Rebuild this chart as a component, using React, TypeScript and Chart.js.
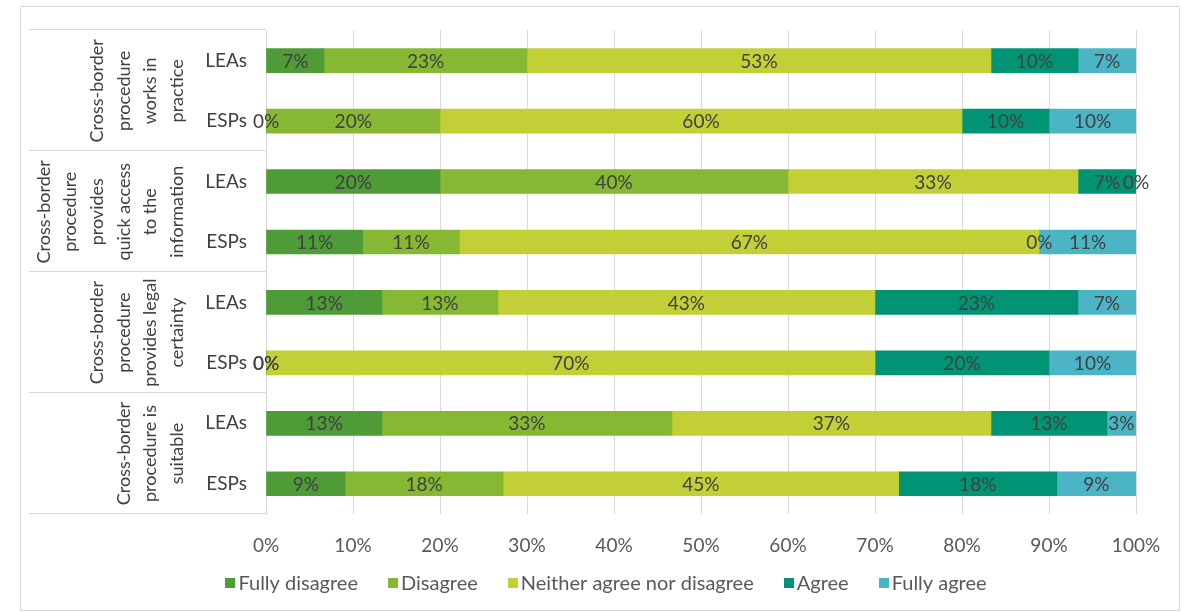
import React, { useEffect, useRef } from 'react';
import { Chart, registerables } from 'chart.js';

Chart.register(...registerables);

// Rows (respondent type) and their survey-statement groups
const rowLabels = ['LEAs', 'ESPs', 'LEAs', 'ESPs', 'LEAs', 'ESPs', 'LEAs', 'ESPs'];
const groupLabels = [
  ['Cross-border', 'procedure', 'works in', 'practice'],
  ['Cross-border', 'procedure', 'provides', 'quick access', 'to the', 'information'],
  ['Cross-border', 'procedure', 'provides legal', 'certainty'],
  ['Cross-border', 'procedure is', 'suitable'],
];

// Answer categories and their colours
const seriesNames = ['Fully disagree', 'Disagree', 'Neither agree nor disagree', 'Agree', 'Fully agree'];
const seriesColors = ['#4E9B38', '#86B833', '#C3CF37', '#009474', '#4BB5C6'];

// Share of answers (%) per row
const fullyDisagree = [6.67, 0, 20, 11.11, 13.33, 0, 13.33, 9.09];
const disagree = [23.33, 20, 40, 11.11, 13.33, 0, 33.33, 18.18];
const neither = [53.33, 60, 33.33, 66.67, 43.33, 70, 36.67, 45.45];
const agree = [10, 10, 6.67, 0, 23.33, 20, 13.33, 18.18];
const fullyAgree = [6.67, 10, 0, 11.11, 6.67, 10, 3.33, 9.09];

const seriesValues = [fullyDisagree, disagree, neither, agree, fullyAgree];

const FONT = 'Lato, "Noto Sans", sans-serif';
const DARK = '#404040';
const GREY = '#595959';
const LINE = '#D9D9D9';

const decorPlugin = {
  id: 'decor',
  beforeDraw(chart: any) {
    const ctx = chart.ctx;
    ctx.save();
    ctx.fillStyle = '#ffffff';
    ctx.fillRect(0, 0, chart.width, chart.height);
    ctx.strokeStyle = LINE;
    ctx.lineWidth = 1;
    ctx.strokeRect(20.5, 6.5, 1159, 604);
    ctx.restore();
  },
  afterDraw(chart: any) {
    const { ctx, chartArea, scales } = chart;
    const yScale = scales.y;
    ctx.save();

    // group separators on the category axis
    const rowH = (chartArea.bottom - chartArea.top) / rowLabels.length;
    ctx.strokeStyle = LINE;
    ctx.lineWidth = 1;
    for (let g = 0; g <= groupLabels.length; g++) {
      const yy = Math.round(chartArea.top + g * 2 * rowH) - 0.5;
      ctx.beginPath();
      ctx.moveTo(29, yy);
      ctx.lineTo(chartArea.left, yy);
      ctx.stroke();
    }

    // rotated group labels
    ctx.fillStyle = DARK;
    ctx.font = `18px ${FONT}`;
    ctx.textAlign = 'center';
    ctx.textBaseline = 'middle';
    const lineGap = 26.6;
    const lastX = 177;
    groupLabels.forEach((lines, g) => {
      const cy = (yScale.getPixelForValue(2 * g) + yScale.getPixelForValue(2 * g + 1)) / 2;
      lines.forEach((t, i) => {
        const x = lastX - (lines.length - 1 - i) * lineGap;
        ctx.save();
        ctx.translate(x, cy);
        ctx.rotate(-Math.PI / 2);
        ctx.fillText(t, 0, 0);
        ctx.restore();
      });
    });

    // value labels centred in each segment
    ctx.font = `19px ${FONT}`;
    ctx.fillStyle = DARK;
    chart.data.datasets.forEach((ds: any, di: number) => {
      const meta = chart.getDatasetMeta(di);
      meta.data.forEach((bar: any, i: number) => {
        const v = ds.data[i];
        const p = bar.getProps(['x', 'y', 'base'], true);
        const cx = (p.x + p.base) / 2;
        ctx.fillText(`${Math.round(v)}%`, cx, p.y + 1);
      });
    });

    // legend
    ctx.font = `20px ${FONT}`;
    ctx.textAlign = 'left';
    const box = 10;
    const boxGap = 3;
    const itemGap = 30;
    const widths = seriesNames.map((n) => ctx.measureText(n).width);
    const total = widths.reduce((a, w) => a + box + boxGap + w, 0) + itemGap * (seriesNames.length - 1);
    let x = 606 - total / 2;
    const ly = 583;
    seriesNames.forEach((n, i) => {
      ctx.fillStyle = seriesColors[i];
      ctx.fillRect(Math.round(x), ly - box / 2, box, box);
      ctx.fillStyle = GREY;
      ctx.fillText(n, x + box + boxGap, ly + 1);
      x += box + boxGap + widths[i] + itemGap;
    });

    ctx.restore();
  },
};

export default function App() {
  const canvasRef = useRef<HTMLCanvasElement | null>(null);

  useEffect(() => {
    document.body.style.margin = '0';
    const canvas = canvasRef.current;
    if (!canvas) return;

    const chart = new Chart(canvas, {
      type: 'bar',
      data: {
        labels: rowLabels,
        datasets: seriesNames.map((name, i) => ({
          label: name,
          data: seriesValues[i],
          backgroundColor: seriesColors[i],
          borderWidth: 0,
          barThickness: 24,
        })),
      },
      options: {
        indexAxis: 'y',
        responsive: false,
        animation: false,
        layout: { padding: { top: 26, right: 64, left: 0, bottom: 0 } },
        plugins: {
          legend: { display: false },
          tooltip: { enabled: false },
        },
        scales: {
          x: {
            stacked: true,
            min: 0,
            max: 100,
            ticks: {
              stepSize: 10,
              padding: 20,
              color: GREY,
              font: { family: FONT, size: 19 },
              callback: (v: any) => `${v}%`,
            },
            grid: { color: LINE, drawTicks: false },
            border: { display: false },
            afterFit: (scale: any) => {
              scale.height = 98;
            },
          },
          y: {
            stacked: true,
            ticks: {
              padding: 19,
              color: DARK,
              font: { family: FONT, size: 19 },
            },
            grid: { display: false, drawTicks: false },
            border: { display: true, color: LINE },
            afterFit: (scale: any) => {
              scale.width = 266;
            },
          },
        },
      },
      plugins: [decorPlugin],
    });

    return () => chart.destroy();
  }, []);

  return (
    <div style={{ width: 1200, height: 612 }}>
      <canvas ref={canvasRef} width={1200} height={612} />
    </div>
  );
}
